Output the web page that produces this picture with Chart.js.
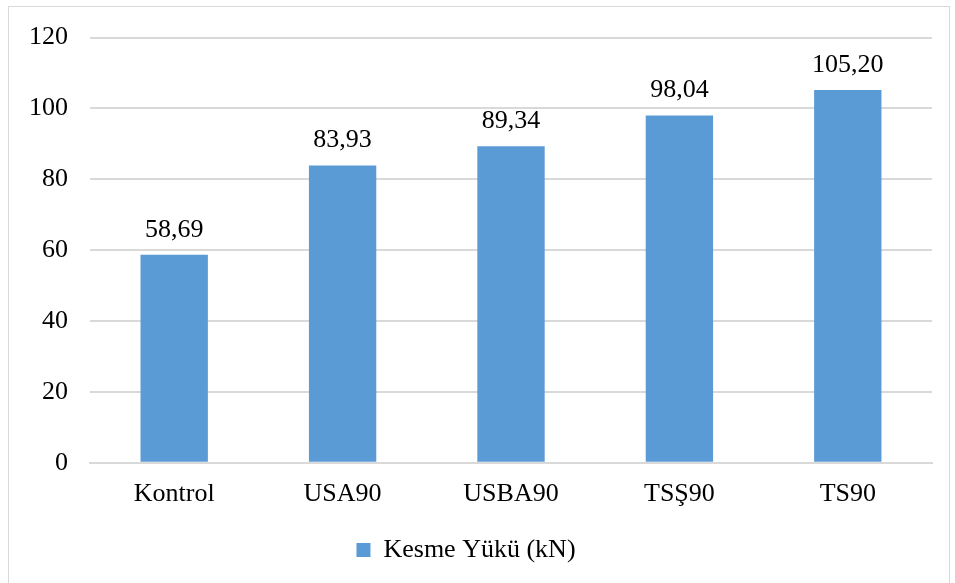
<!DOCTYPE html>
<html>
<head>
<meta charset="utf-8">
<script src="https://cdn.jsdelivr.net/npm/chart.js@4/dist/chart.umd.min.js"></script>
<style>
  html, body { margin: 0; padding: 0; background: #fff; }
  #frame { position: absolute; left: 8px; top: 6px; width: 940px; height: 580px; border: 1px solid #d9d9d9; }
  #wrap { position: absolute; left: 0; top: 0; width: 955px; height: 583px; }
</style>
</head>
<body>
<div id="frame"></div>
<div id="wrap"><canvas id="chart"></canvas></div>
<script>
const categories = ['Kontrol', 'USA90', 'USBA90', 'TSŞ90', 'TS90'];
const shearLoad = [58.69, 83.93, 89.34, 98.04, 105.20];
const seriesName = 'Kesme Yükü (kN)';

const font = '"Liberation Serif", "Times New Roman", serif';
const fontSize = 26;

// value labels above each bar, comma decimal
const barLabels = {
  id: 'barLabels',
  afterDatasetsDraw(chart) {
    const ctx = chart.ctx;
    const meta = chart.getDatasetMeta(0);
    ctx.save();
    ctx.font = fontSize + 'px ' + font;
    ctx.fillStyle = '#000';
    ctx.textAlign = 'center';
    ctx.textBaseline = 'bottom';
    meta.data.forEach((bar, i) => {
      const txt = shearLoad[i].toFixed(2).replace('.', ',');
      ctx.fillText(txt, bar.x, bar.y - 12);
    });
    ctx.restore();
  }
};

const ctx = document.getElementById('chart').getContext('2d');
new Chart(ctx, {
  type: 'bar',
  data: {
    labels: categories,
    datasets: [{
      label: seriesName,
      data: shearLoad,
      backgroundColor: '#5b9bd5',
      barPercentage: 0.4,
      categoryPercentage: 1.0
    }]
  },
  options: {
    responsive: true,
    maintainAspectRatio: false,
    animation: false,
    layout: { padding: { top: 20, right: 23, bottom: 10, left: 0 } },
    plugins: {
      legend: {
        position: 'bottom',
        labels: {
          color: '#000',
          font: { family: font, size: fontSize },
          boxWidth: 14,
          boxHeight: 14,
          padding: 19
        }
      },
      tooltip: { enabled: false }
    },
    scales: {
      y: {
        min: 0,
        max: 120,
        ticks: {
          stepSize: 20,
          color: '#000',
          font: { family: font, size: fontSize },
          padding: 22
        },
        grid: { color: '#d9d9d9', lineWidth: 2, drawTicks: false },
        border: { display: false },
        afterFit(scale) { scale.width = 90; }
      },
      x: {
        ticks: {
          color: '#000',
          font: { family: font, size: fontSize },
          padding: 8
        },
        grid: { display: false },
        border: { color: '#d9d9d9', width: 2 }
      }
    }
  },
  plugins: [barLabels]
});
</script>
</body>
</html>
